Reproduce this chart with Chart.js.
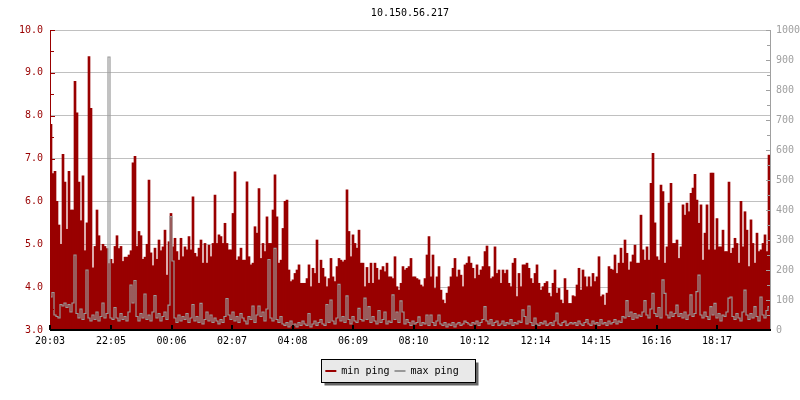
<!DOCTYPE html>
<html>
<head>
<meta charset="utf-8">
<title>10.150.56.217</title>
<script src="https://cdn.jsdelivr.net/npm/chart.js@4/dist/chart.umd.min.js"></script>
<style>
  html, body { margin: 0; padding: 0; background: #fff; }
  #wrap { width: 800px; height: 400px; }
</style>
</head>
<body>
<div id="wrap"><canvas id="pingChart" width="800" height="400"></canvas></div>
<script>
// one sample every 4 minutes, first one at 20:03
const stepMinutes = 4;

// min ping (ms), left axis
const minPing = [
  7.8, 6.65, 6.7, 6.0, 5.45, 5.0, 7.1, 6.45, 5.35, 6.7, 5.8, 5.8, 8.8, 8.07, 6.45, 5.55, 6.6, 4.85, 5.5, 9.38,
  8.17, 4.45, 4.95, 5.8, 5.2, 4.85, 5.0, 4.95, 4.9, 4.55, 4.65, 4.55, 4.95, 5.2, 4.9, 4.95, 4.6, 4.7, 4.7, 4.75,
  4.85, 6.9, 7.05, 4.95, 5.3, 5.2, 4.65, 4.7, 5.0, 6.5, 4.8, 4.5,
  4.91, 4.65, 5.1, 4.85, 4.94, 5.33, 4.28, 5.06, 5.72, 4.94, 5.14, 4.83, 4.63, 5.14, 4.71, 4.94, 4.87, 5.18,
  4.87, 6.11, 4.79, 4.71, 4.91, 5.1, 4.56, 5.02, 4.56, 4.98, 4.71, 5.02, 6.15, 5.02, 5.22, 5.18, 5.02, 5.49,
  5.02, 4.87, 4.87, 5.72, 6.69, 4.63, 4.71, 4.91, 4.63, 4.63, 6.46, 4.71, 4.52, 4.56, 5.41, 5.26,
  6.3, 4.67, 5.02, 4.83, 5.64, 5.02, 5.02, 5.8, 6.62, 5.64, 4.56, 4.63, 5.37, 6.0, 6.03, 4.4, 4.13, 4.17,
  4.32, 4.4, 4.52, 4.09, 4.09, 4.09, 4.2, 4.52, 4.01, 4.44, 4.32, 5.1, 4.09, 4.63, 4.44, 4.24, 4.01, 4.2,
  4.67, 4.24, 4.13, 4.48, 4.67, 4.63, 4.59, 4.63, 6.27, 5.3, 4.71, 5.22, 5.02, 4.91, 5.33, 4.56,
  4.56, 4.01, 4.46, 4.09, 4.56, 4.09, 4.56, 4.44, 4.17, 4.4, 4.48, 4.36, 4.56, 4.24, 4.24, 4.2, 4.71, 4.01,
  3.93, 4.09, 4.48, 4.4, 4.44, 4.48, 4.67, 4.24, 4.24, 4.2, 4.17, 4.05, 4.01, 4.2, 4.75, 5.18, 4.24, 4.75,
  3.97, 4.24, 4.48, 3.93, 3.7, 3.62, 3.86, 4.01, 4.24, 4.44, 4.67, 4.24, 4.4, 4.28, 4.01, 4.52, 4.56,
  4.71, 4.56, 4.44, 4.2, 4.52, 4.28, 4.4, 4.48, 4.83, 4.96, 4.48, 4.2, 4.24, 4.94, 4.32, 4.4, 4.09, 4.4,
  4.32, 4.4, 4.09, 4.01, 4.56, 4.67, 3.78, 4.32, 4.01, 4.52, 4.52, 4.56, 4.44, 4.2, 4.09, 4.32, 4.52, 4.09,
  3.93, 4.01, 4.09, 4.13, 3.86, 3.78, 4.09, 4.4, 3.86, 3.97, 3.7, 3.62, 4.2, 3.93, 3.62, 3.62,
  3.8, 3.78, 4.05, 4.44, 3.93, 4.4, 4.24, 4.01, 4.24, 4.01, 4.32, 4.13, 4.24, 4.71, 3.78, 3.82, 3.58, 3.86,
  4.48, 4.42, 4.4, 4.75, 4.32, 4.56, 4.91, 4.56, 5.1, 4.79, 4.4, 4.59, 4.75, 4.98, 4.56, 4.56, 5.68, 4.87,
  4.63, 4.94, 4.63, 6.42, 7.12, 5.5, 4.71, 4.63, 6.38, 6.23, 4.56, 4.94, 5.96, 6.42, 5.02, 5.02,
  5.1, 4.67, 4.94, 5.92, 5.68, 5.96, 5.76, 6.19, 6.31, 6.63, 6.03, 5.49, 5.92, 4.63, 5.26, 5.92, 4.87, 6.66,
  6.66, 4.87, 5.6, 4.94, 4.94, 5.33, 4.83, 4.83, 6.45, 4.79, 4.91, 5.14, 5.02, 4.56, 6.0, 4.94, 5.76, 5.33,
  4.48, 5.57, 5.02, 4.56, 5.26, 4.83, 4.87, 5.02, 5.22, 4.83, 7.08
];

// max ping (ms), right axis
const maxPing = [
  110, 125, 50, 45, 40, 85, 80, 90, 75, 85, 60, 90, 250, 55, 40, 70, 35, 55, 200, 40,
  30, 50, 35, 60, 30, 45, 90, 40, 55, 910, 40, 35, 75, 40, 30, 55, 35, 45, 30, 60,
  150, 90, 165, 45, 30, 55, 40, 120, 35, 50, 30, 60,
  115, 40, 55, 30, 45, 60, 35, 83, 378, 230, 40, 25, 50, 30, 45, 35, 55, 25, 40, 85,
  30, 45, 25, 89, 20, 35, 60, 30, 50, 25, 40, 30, 20, 35, 25, 45, 105, 50, 35, 60,
  30, 45, 25, 55, 40, 30, 20, 45, 35, 80, 25, 50,
  80, 45, 60, 30, 70, 235, 40, 30, 272, 35, 25, 45, 20, 15, 25, 10, 30, 15, 20, 10,
  25, 15, 30, 20, 15, 55, 10, 20, 30, 15, 25, 35, 20, 15, 85, 25, 100, 30, 20, 40,
  152, 30, 45, 25, 114, 35, 20, 45, 30, 25, 72, 35,
  30, 106, 35, 78, 25, 45, 30, 20, 65, 25, 35, 60, 20, 30, 25, 117, 35, 60, 25, 97,
  60, 20, 35, 25, 15, 30, 20, 25, 44, 15, 25, 20, 50, 15, 50, 25, 15, 30, 50, 20,
  15, 25, 10, 20, 15, 25, 10, 20, 25, 15, 20, 30, 25,
  20, 15, 25, 20, 30, 15, 25, 35, 78, 30, 20, 35, 15, 25, 30, 15, 20, 30, 15, 25,
  20, 35, 15, 25, 20, 30, 25, 67, 45, 20, 80, 25, 15, 40, 20, 15, 25, 20, 30, 15,
  20, 25, 15, 30, 56, 20, 15, 25, 30, 15, 20, 25,
  20, 25, 15, 30, 20, 15, 25, 35, 20, 15, 30, 20, 25, 15, 35, 20, 25, 15, 30, 20,
  25, 35, 20, 30, 25, 45, 40, 98, 45, 60, 35, 55, 40, 50, 45, 60, 98, 50, 40, 70,
  122, 55, 45, 75, 40, 167, 122, 50, 40, 60, 45, 55,
  83, 45, 55, 40, 60, 35, 50, 117, 45, 55, 128, 183, 50, 40, 60, 45, 35, 78, 50, 89,
  40, 55, 30, 50, 45, 60, 106, 110, 45, 35, 55, 40, 30, 60, 133, 50, 35, 55, 40, 78,
  45, 30, 110, 50, 40, 65, 78
];

// x axis tick labels
const timeLabels = ['20:03', '22:05', '00:06', '02:07', '04:08', '06:09',
                    '08:10', '10:12', '12:14', '14:15', '16:16', '18:17'];

const seriesNames = ['min ping', 'max ping'];
const titleText = '10.150.56.217';

const RED = '#990000';
const GREY = '#999999';
const GREY_TEXT = '#a0a0a0';

// minutes after the first label (wraps past midnight)
function minutesFromStart(label) {
  const [h, m] = label.split(':').map(Number);
  const [h0, m0] = timeLabels[0].split(':').map(Number);
  return ((h * 60 + m) - (h0 * 60 + m0) + 1440) % 1440;
}
const tickMinutes = timeLabels.map(minutesFromStart);
const totalMinutes = minPing.length * stepMinutes;

// sample i sits in the middle of its 4 minute slot
const toPoints = arr => arr.map((v, i) => ({ x: i * stepMinutes + stepMinutes / 2, y: v }));

Chart.defaults.font.family = "'DejaVu Sans Mono', monospace";
Chart.defaults.font.size = 10;
Chart.defaults.color = '#000';

// grey box with drop shadow behind the legend
const legendFrame = {
  id: 'legendFrame',
  afterLayout(chart) {
    // rrdtool centres the legend a bit left of the middle
    if (chart.legend) { chart.legend.left -= 8; chart.legend.right -= 8; }
  },
  beforeDraw(chart) {
    const boxes = chart.legend && chart.legend.legendHitBoxes;
    if (!boxes || !boxes.length) return;
    const ctx = chart.ctx;
    const first = boxes[0], last = boxes[boxes.length - 1];
    const left = Math.round(first.left) - 3.5;
    const right = Math.round(last.left + last.width) + 16.5;
    const top = Math.round(first.top) - 6.5;
    const bottom = Math.round(first.top + first.height) + 6.5;
    ctx.save();
    ctx.fillStyle = '#666';
    ctx.fillRect(left + 3, top + 3, right - left, bottom - top);
    ctx.fillStyle = '#e9e9e9';
    ctx.fillRect(left, top, right - left, bottom - top);
    ctx.strokeStyle = '#000';
    ctx.lineWidth = 1;
    ctx.strokeRect(left, top, right - left, bottom - top);
    ctx.restore();
  }
};

// axis lines and inward tick marks, drawn over the data like rrdtool does
const axisMarks = {
  id: 'axisMarks',
  afterDatasetsDraw(chart) {
    const { ctx, chartArea: a, scales } = chart;
    const seg = (x1, y1, x2, y2, color, w) => {
      ctx.strokeStyle = color;
      ctx.lineWidth = w;
      ctx.beginPath();
      ctx.moveTo(x1, y1);
      ctx.lineTo(x2, y2);
      ctx.stroke();
    };
    ctx.save();
    // left axis
    const yl = scales.y;
    const lt = yl.ticks.map(t => t.value);
    seg(a.left + 0.5, a.top, a.left + 0.5, a.bottom, RED, 1);
    lt.forEach((v, i) => {
      const py = Math.round(yl.getPixelForValue(v)) + 0.5;
      seg(a.left, py, a.left + 5, py, RED, 1);
      if (i < lt.length - 1) {
        const pm = Math.round(yl.getPixelForValue((v + lt[i + 1]) / 2)) + 0.5;
        seg(a.left, pm, a.left + 4, pm, RED, 1);
      }
    });
    // right axis
    const yr = scales.y1;
    const rt = yr.ticks.map(t => t.value);
    seg(a.right + 0.5, a.top, a.right + 0.5, a.bottom, GREY_TEXT, 1);
    rt.forEach((v, i) => {
      const py = Math.round(yr.getPixelForValue(v)) + 0.5;
      seg(a.right - 4, py, a.right + 1, py, GREY_TEXT, 1);
      if (i < rt.length - 1) {
        const pm = Math.round(yr.getPixelForValue((v + rt[i + 1]) / 2)) + 0.5;
        seg(a.right - 3, pm, a.right + 1, pm, GREY_TEXT, 1);
      }
    });
    // bottom axis
    seg(a.left, a.bottom, a.right + 1, a.bottom, '#000', 2);
    scales.x.ticks.forEach(t => {
      const px = Math.round(scales.x.getPixelForValue(t.value));
      seg(px, a.bottom, px, a.bottom - 5, '#000', 2);
    });
    ctx.restore();
  }
};

const ctx = document.getElementById('pingChart').getContext('2d');

new Chart(ctx, {
  type: 'bar',
  data: {
    datasets: [
      {
        label: seriesNames[0],
        data: toPoints(minPing),
        yAxisID: 'y',
        backgroundColor: RED,
        borderWidth: 0,
        categoryPercentage: 1,
        barPercentage: 1,
        order: 1
      },
      {
        type: 'line',
        label: seriesNames[1],
        data: toPoints(maxPing),
        yAxisID: 'y1',
        borderColor: GREY,
        backgroundColor: GREY,
        borderWidth: 1.2,
        pointRadius: 0,
        stepped: 'middle',
        fill: false,
        order: 0
      }
    ]
  },
  options: {
    responsive: false,
    animation: false,
    events: [],
    layout: { padding: { left: 0, right: 0, top: 0, bottom: 14 } },
    scales: {
      x: {
        type: 'linear',
        min: 0,
        max: totalMinutes,
        offset: false,
        grid: { display: false, drawTicks: false },
        border: { display: false },
        afterBuildTicks: scale => { scale.ticks = tickMinutes.map(v => ({ value: v })); },
        afterFit: scale => { scale.height = 31; },
        ticks: {
          autoSkip: false,
          maxRotation: 0,
          padding: 5,
          color: '#000',
          callback: (value) => timeLabels[tickMinutes.indexOf(value)]
        }
      },
      y: {
        position: 'left',
        min: 3,
        max: 10,
        beginAtZero: false,
        afterFit: scale => { scale.width = 50; },
        grid: { color: '#c0c0c0', drawTicks: false },
        border: { display: false },
        ticks: {
          stepSize: 1,
          padding: 7,
          color: RED,
          callback: v => v.toFixed(1)
        }
      },
      y1: {
        position: 'right',
        min: 0,
        max: 1000,
        beginAtZero: true,
        afterFit: scale => { scale.width = 30; },
        grid: { drawOnChartArea: false, drawTicks: false },
        border: { display: false },
        ticks: { stepSize: 100, padding: 6, color: GREY_TEXT, callback: v => String(v) }
      }
    },
    plugins: {
      title: {
        display: true,
        text: titleText,
        fullSize: false,
        color: '#000',
        font: { size: 10, weight: 'normal' },
        padding: { top: 7, bottom: 11 }
      },
      legend: {
        position: 'bottom',
        labels: {
          boxWidth: 11,
          boxHeight: 2,
          padding: 5,
          color: '#000',
          sort: (a, b) => a.datasetIndex - b.datasetIndex,
          generateLabels: chart => Chart.defaults.plugins.legend.labels.generateLabels(chart)
            .map(item => Object.assign(item, { lineWidth: 0, strokeStyle: item.fillStyle }))
        }
      },
      tooltip: { enabled: false }
    }
  },
  plugins: [legendFrame, axisMarks]
});
</script>
</body>
</html>
